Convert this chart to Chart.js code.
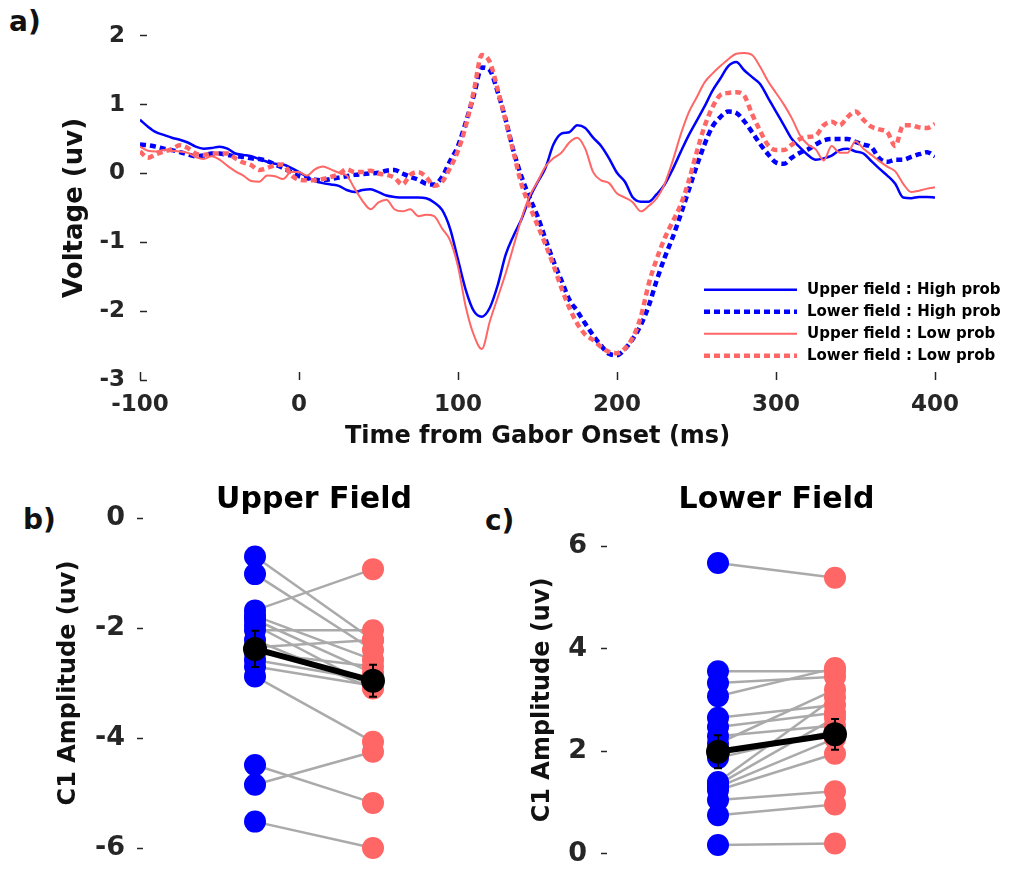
<!DOCTYPE html>
<html>
<head>
<meta charset="utf-8">
<title>C1 amplitude by visual field and probability</title>
<script src="https://cdn.jsdelivr.net/npm/chart.js@4.4.1/dist/chart.umd.min.js"></script>
<style>
  html, body { margin: 0; padding: 0; background: #fff; overflow: hidden; }
  body { width: 1023px; height: 890px; position: relative; }
  canvas { position: absolute; }
  .panel-tag { position: absolute; font: bold 28px 'DejaVu Sans', sans-serif; line-height: 1; color: #111; }
</style>
</head>
<body>
<div class="panel-tag" style="left:9px;top:8px">a)</div>
<div class="panel-tag" style="left:23px;top:506px">b)</div>
<div class="panel-tag" style="left:485px;top:507px">c)</div>

<canvas id="ercChart" style="left:0;top:0" width="1023" height="460"></canvas>
<canvas id="upperChart" style="left:0;top:440px" width="628" height="450"></canvas>
<canvas id="lowerChart" style="left:500px;top:440px" width="523" height="450"></canvas>

<script>
// Sample times (ms from Gabor onset)
const times = [
  -100, -95, -90, -85, -80, -75, -70, -65, -60, -55,
  -50, -45, -40, -35, -30, -25, -20, -15, -10, -5,
  0, 5, 10, 15, 20, 25, 30, 35, 40, 45,
  50, 55, 60, 65, 70, 75, 80, 85, 90, 95,
  100, 105, 110, 115, 120, 125, 130, 135, 140, 145,
  150, 155, 160, 165, 170, 175, 180, 185, 190, 195,
  200, 205, 210, 215, 220, 225, 230, 235, 240, 245,
  250, 255, 260, 265, 270, 275, 280, 285, 290, 295,
  300, 305, 310, 315, 320, 325, 330, 335, 340, 345,
  350, 355, 360, 365, 370, 375, 380, 385, 390, 395,
  400
];

// Grand-average waveforms (uV)
const upperHighErp = [
  0.78, 0.68, 0.60, 0.56, 0.52, 0.49, 0.45, 0.39, 0.36, 0.37,
  0.39, 0.36, 0.29, 0.27, 0.25, 0.21, 0.17, 0.14, 0.13, 0.08,
  0.02, -0.05, -0.11, -0.14, -0.16, -0.18, -0.24, -0.27, -0.24, -0.23,
  -0.27, -0.32, -0.34, -0.35, -0.35, -0.35, -0.36, -0.42, -0.53, -0.80,
  -1.25, -1.70, -2.00, -2.08, -1.95, -1.62, -1.18, -0.90, -0.66, -0.36,
  -0.13, 0.08, 0.42, 0.58, 0.60, 0.70, 0.66, 0.52, 0.40, 0.22,
  0.01, -0.12, -0.35, -0.41, -0.41, -0.30, -0.16, 0.06, 0.31, 0.55,
  0.76, 0.97, 1.20, 1.38, 1.56, 1.62, 1.50, 1.40, 1.30, 1.10,
  0.90, 0.70, 0.50, 0.38, 0.27, 0.20, 0.22, 0.26, 0.34, 0.36,
  0.32, 0.29, 0.18, 0.07, -0.03, -0.15, -0.35, -0.36, -0.34, -0.34,
  -0.35
];
const lowerHighErp = [
  0.42, 0.41, 0.39, 0.36, 0.34, 0.31, 0.28, 0.25, 0.26, 0.29,
  0.29, 0.27, 0.25, 0.24, 0.22, 0.21, 0.18, 0.13, 0.08, 0.02,
  -0.04, -0.07, -0.09, -0.10, -0.08, -0.06, -0.04, -0.02, -0.01, 0.00,
  0.01, 0.04, 0.05, 0.00, -0.05, -0.09, -0.15, -0.16, -0.05, 0.18,
  0.40, 0.75, 1.14, 1.54, 1.50, 1.18, 0.78, 0.32, -0.05, -0.35,
  -0.62, -0.95, -1.27, -1.55, -1.83, -2.00, -2.18, -2.35, -2.50, -2.62,
  -2.64, -2.55, -2.40, -2.20, -1.92, -1.55, -1.22, -0.93, -0.60, -0.25,
  0.10, 0.42, 0.68, 0.82, 0.90, 0.88, 0.76, 0.60, 0.43, 0.28,
  0.16, 0.14, 0.23, 0.30, 0.35, 0.42, 0.48, 0.50, 0.50, 0.50,
  0.46, 0.42, 0.38, 0.22, 0.17, 0.20, 0.20, 0.24, 0.28, 0.31,
  0.25
];
const upperLowErp = [
  0.39, 0.33, 0.32, 0.34, 0.33, 0.32, 0.30, 0.24, 0.21, 0.25,
  0.20, 0.11, 0.03, -0.03, -0.11, -0.12, -0.03, -0.04, -0.08, 0.02,
  0.02, -0.03, 0.06, 0.10, 0.06, 0.01, -0.03, -0.22, -0.40, -0.52,
  -0.42, -0.38, -0.52, -0.55, -0.52, -0.62, -0.60, -0.62, -0.80, -0.97,
  -1.35, -1.95, -2.35, -2.55, -2.15, -1.80, -1.45, -1.05, -0.65, -0.33,
  -0.12, 0.10, 0.22, 0.30, 0.45, 0.52, 0.36, 0.02, -0.10, -0.14,
  -0.29, -0.35, -0.42, -0.55, -0.47, -0.36, -0.15, 0.18, 0.56, 0.88,
  1.10, 1.32, 1.45, 1.56, 1.66, 1.74, 1.75, 1.72, 1.55, 1.34,
  1.17, 1.00, 0.80, 0.56, 0.42, 0.35, 0.19, 0.40, 0.30, 0.30,
  0.47, 0.36, 0.27, 0.18, 0.10, 0.03, -0.15, -0.27, -0.25, -0.22,
  -0.20
];
const lowerLowErp = [
  0.32, 0.23, 0.28, 0.32, 0.35, 0.41, 0.37, 0.29, 0.27, 0.29,
  0.29, 0.29, 0.22, 0.16, 0.12, 0.05, 0.08, 0.12, 0.13, -0.02,
  -0.09, -0.10, -0.10, -0.08, -0.05, -0.01, 0.06, 0.02, 0.02, 0.04,
  0.00, -0.02, -0.06, -0.16, -0.02, 0.02, -0.05, -0.18, -0.12, 0.08,
  0.33, 0.70, 1.20, 1.72, 1.62, 1.22, 0.76, 0.30, -0.16, -0.47,
  -0.75, -1.03, -1.33, -1.66, -1.95, -2.18, -2.34, -2.42, -2.52, -2.59,
  -2.61, -2.54, -2.38, -2.08, -1.60, -1.24, -0.94, -0.70, -0.46, -0.12,
  0.30, 0.68, 0.96, 1.14, 1.17, 1.18, 1.13, 0.86, 0.62, 0.41,
  0.34, 0.34, 0.42, 0.50, 0.53, 0.55, 0.70, 0.75, 0.70, 0.82,
  0.90, 0.78, 0.68, 0.64, 0.60, 0.40, 0.70, 0.70, 0.67, 0.66,
  0.72
];

// Per-subject C1 peak amplitudes (uV), paired by index
const upperHighAmp = [-0.70, -1.02, -1.68, -1.78, -1.85, -1.95, -2.04, -2.22, -2.35, -2.45, -2.58, -2.70, -2.88, -4.49, -4.85, -5.52];
const upperLowAmp  = [-2.22, -2.40, -0.93, -2.58, -2.82, -3.07, -2.04, -3.10, -2.22, -2.70, -2.95, -3.05, -4.07, -5.18, -4.25, -6.00];
const lowerHighAmp = [5.67, 3.56, 3.33, 3.07, 2.65, 2.47, 2.29, 2.15, 1.87, 1.40, 1.35, 1.30, 1.24, 1.05, 0.75, 0.17];
const lowerLowAmp  = [5.38, 3.56, 3.45, 3.62, 2.90, 2.75, 2.50, 3.20, 2.40, 3.05, 2.65, 2.25, 1.95, 1.22, 0.96, 0.20];

// Condition means and standard errors: [high prob, low prob]
const upperMeans = [-2.38, -2.96];
const upperSems = [0.33, 0.29];
const lowerMeans = [1.99, 2.33];
const lowerSems = [0.32, 0.30];

const blue = '#0000ff';
const salmon = '#ff6666';
const linkGray = '#aaaaaa';
const inkColor = '#262626';

Chart.defaults.font.family = "'DejaVu Sans', sans-serif";
Chart.defaults.font.weight = 'bold';
Chart.defaults.color = inkColor;
Chart.defaults.animation = false;
Chart.defaults.plugins.legend.display = false;
Chart.defaults.plugins.tooltip.enabled = false;

// Legend with long line samples, drawn inside the lower right of the plot
const lineLegend = {
  id: 'lineLegend',
  afterDraw(chart, args, opts) {
    const { ctx, chartArea } = chart;
    const x0 = chartArea.right - opts.right;
    ctx.save();
    chart.data.datasets.forEach((ds, i) => {
      const y = chartArea.top + opts.top + i * opts.rowHeight;
      ctx.strokeStyle = ds.borderColor;
      ctx.lineWidth = ds.borderWidth;
      ctx.lineCap = 'butt';
      ctx.setLineDash(ds.borderDash || []);
      ctx.beginPath();
      ctx.moveTo(x0, y);
      ctx.lineTo(x0 + opts.lineLength, y);
      ctx.stroke();
      ctx.setLineDash([]);
      ctx.fillStyle = '#000';
      ctx.font = "bold 15px 'DejaVu Sans'";
      ctx.textBaseline = 'middle';
      ctx.fillText(ds.label, x0 + opts.lineLength + opts.gap, y);
    });
    ctx.restore();
  }
};

// Vertical SEM bars with small caps for datasets that carry errorBars
const errorBars = {
  id: 'errorBars',
  afterDatasetsDraw(chart) {
    const { ctx, scales } = chart;
    chart.data.datasets.forEach(ds => {
      if (!ds.errorBars) return;
      ctx.save();
      ctx.strokeStyle = ds.borderColor;
      ctx.lineWidth = 2;
      ds.data.forEach((pt, i) => {
        const px = scales.x.getPixelForValue(pt.x);
        const top = scales.y.getPixelForValue(pt.y + ds.errorBars[i]);
        const bottom = scales.y.getPixelForValue(pt.y - ds.errorBars[i]);
        ctx.beginPath();
        ctx.moveTo(px, top);
        ctx.lineTo(px, bottom);
        ctx.moveTo(px - 4, top);
        ctx.lineTo(px + 4, top);
        ctx.moveTo(px - 4, bottom);
        ctx.lineTo(px + 4, bottom);
        ctx.stroke();
      });
      ctx.restore();
    });
  }
};

// Waveforms
const ercCtx = document.getElementById('ercChart').getContext('2d');
const ercChart = new Chart(ercCtx, {
  type: 'line',
  data: {
    labels: times,
    datasets: [
      { label: 'Upper field : High prob', data: upperHighErp, borderColor: blue, borderWidth: 2.5, order: 3 },
      { label: 'Lower field : High prob', data: lowerHighErp, borderColor: blue, borderWidth: 4.5, borderDash: [6, 4], order: 2 },
      { label: 'Upper field : Low prob', data: upperLowErp, borderColor: salmon, borderWidth: 2, order: 1 },
      { label: 'Lower field : Low prob', data: lowerLowErp, borderColor: salmon, borderWidth: 4.5, borderDash: [6, 4], order: 0 }
    ]
  },
  options: {
    responsive: false,
    layout: { padding: { left: 0, top: 22, right: 88, bottom: 0 } },
    elements: {
      point: { radius: 0 },
      line: { cubicInterpolationMode: 'monotone', borderCapStyle: 'butt' }
    },
    scales: {
      x: {
        type: 'linear',
        min: -100,
        max: 400,
        border: { display: false },
        grid: { drawOnChartArea: false, tickLength: -8, tickWidth: 1.5, tickColor: inkColor },
        ticks: { stepSize: 100, padding: 19, font: { size: 23, weight: 'bold' } },
        title: {
          display: true,
          text: 'Time from Gabor Onset (ms)',
          color: '#111',
          font: { size: 24, weight: 'bold' },
          padding: { top: 0, bottom: 8.6 }
        },
        afterFit(scale) { scale.height = 80; }
      },
      y: {
        min: -3,
        max: 2,
        border: { display: false },
        grid: { drawOnChartArea: false, tickLength: -7, tickWidth: 1.5, tickColor: inkColor },
        ticks: { stepSize: 1, padding: 22, font: { size: 23, weight: 'bold' } },
        title: {
          display: true,
          text: 'Voltage (uv)',
          color: '#111',
          font: { size: 26, weight: 'bold' },
          padding: { top: 60, bottom: 0 }
        },
        afterFit(scale) { scale.width = 140; }
      }
    },
    plugins: {
      lineLegend: { top: 254, right: 231, lineLength: 93, gap: 10, rowHeight: 22 }
    }
  },
  plugins: [lineLegend]
});

// Paired subject lines, individual dots and the condition means
function pairedDatasets(highVals, lowVals, means, sems) {
  const links = highVals.map((v, i) => ({
    data: [{ x: 0, y: v }, { x: 1, y: lowVals[i] }],
    showLine: true,
    borderColor: linkGray,
    borderWidth: 2.5,
    pointRadius: 0,
    order: 2,
    clip: false
  }));
  return links.concat([
    {
      data: highVals.map(v => ({ x: 0, y: v })),
      pointBackgroundColor: blue,
      pointBorderWidth: 0,
      pointRadius: 11,
      order: 1,
      clip: false
    },
    {
      data: lowVals.map(v => ({ x: 1, y: v })),
      pointBackgroundColor: salmon,
      pointBorderWidth: 0,
      pointRadius: 11,
      order: 1,
      clip: false
    },
    {
      data: means.map((m, i) => ({ x: i, y: m })),
      showLine: true,
      borderColor: '#000',
      borderWidth: 6,
      pointBackgroundColor: '#000',
      pointBorderWidth: 0,
      pointRadius: 12,
      order: 0,
      clip: false,
      errorBars: sems
    }
  ]);
}

function amplitudeOptions(title, yMin, yMax, axisWidth, titleOffset, tickPad, padding, titleGap) {
  return {
    responsive: false,
    layout: { padding: padding },
    scales: {
      x: { type: 'linear', min: -1, max: 2, display: false },
      y: {
        min: yMin,
        max: yMax,
        border: { display: false },
        grid: { drawOnChartArea: false, tickLength: -6, tickWidth: 1.5, tickColor: inkColor },
        ticks: { stepSize: 2, padding: tickPad, font: { size: 27, weight: 'bold' } },
        title: {
          display: true,
          text: 'C1 Amplitude (uv)',
          color: '#111',
          font: { size: 24, weight: 'bold' },
          padding: { top: titleOffset, bottom: 0 }
        },
        afterFit(scale) { scale.width = axisWidth; }
      }
    },
    plugins: {
      title: {
        display: true,
        text: title,
        fullSize: false,
        color: '#000',
        font: { size: 30, weight: 'bold' },
        padding: { top: 42, bottom: titleGap }
      }
    }
  };
}

const upperCtx = document.getElementById('upperChart').getContext('2d');
const upperChart = new Chart(upperCtx, {
  type: 'scatter',
  data: { datasets: pairedDatasets(upperHighAmp, upperLowAmp, upperMeans, upperSems) },
  options: amplitudeOptions('Upper Field', -6, 0, 137, 54.6, 18, { left: 0, top: 0, right: 137, bottom: 42 }, 0),
  plugins: [errorBars]
});

const lowerCtx = document.getElementById('lowerChart').getContext('2d');
const lowerChart = new Chart(lowerCtx, {
  type: 'scatter',
  data: { datasets: pairedDatasets(lowerHighAmp, lowerLowAmp, lowerMeans, lowerSems) },
  options: amplitudeOptions('Lower Field', 0, 6, 101, 28.6, 20, { left: 0, top: 0, right: 71, bottom: 14 }, 28),
  plugins: [errorBars]
});
</script>
</body>
</html>
